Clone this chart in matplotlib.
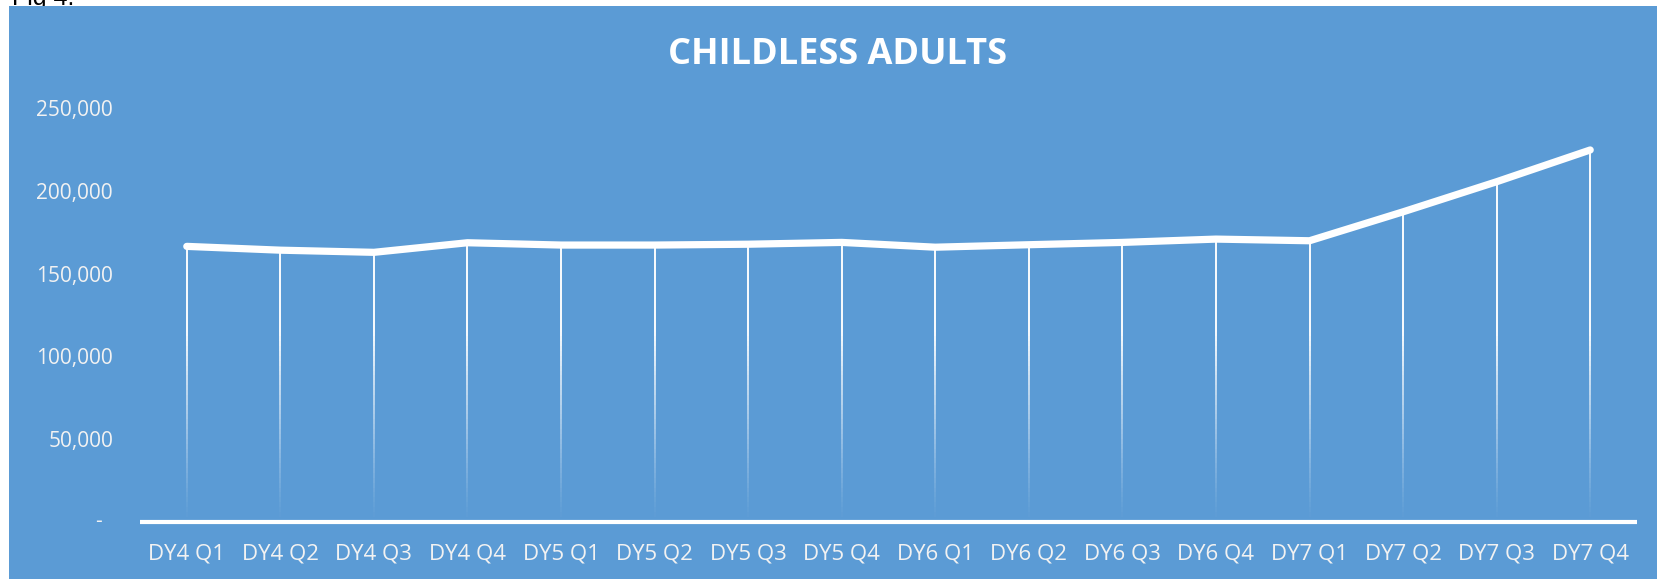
import numpy as np
import matplotlib
matplotlib.use("Agg")
import matplotlib.pyplot as plt
from matplotlib.collections import LineCollection
from matplotlib.patches import Rectangle
from matplotlib.ticker import FixedLocator, FuncFormatter

# ---- data ----
categories = ["DY4 Q1", "DY4 Q2", "DY4 Q3", "DY4 Q4",
              "DY5 Q1", "DY5 Q2", "DY5 Q3", "DY5 Q4",
              "DY6 Q1", "DY6 Q2", "DY6 Q3", "DY6 Q4",
              "DY7 Q1", "DY7 Q2", "DY7 Q3", "DY7 Q4"]
enrollment = [166500, 164200, 162900, 168700,
              167300, 167300, 167800, 168900,
              166000, 167500, 168900, 170900,
              169900, 187400, 205600, 224800]
y_ticks = [0, 50000, 100000, 150000, 200000, 250000]
title = "CHILDLESS ADULTS"

# ---- style ----
BLUE = "#5B9BD5"
LABEL = "#F2F2F2"
W, H = 1657, 579
plt.rcParams['font.family'] = ['Open Sans', 'DejaVu Sans']

fig = plt.figure(figsize=(W / 100, H / 100), dpi=100)
fig.patch.set_facecolor("white")

# "Fig 4." caption mostly cut off above the panel
fig.text(12 / W, 1 - 5 / H, "Fig 4.", fontsize=18, color="black",
         family=['Liberation Sans'], ha="left", va="baseline", zorder=0)
# blue chart panel
fig.patches.append(Rectangle((9 / W, 0), 1 - 9 / W, 1 - 6.3 / H,
                             transform=fig.transFigure, facecolor=BLUE,
                             edgecolor="none", zorder=1))

ax_left, ax_right = 140, 1637
ax_top, ax_bot = 108.3, 521.7
ax = fig.add_axes([ax_left / W, 1 - ax_bot / H,
                   (ax_right - ax_left) / W, (ax_bot - ax_top) / H])
ax.set_zorder(2)
ax.patch.set_alpha(0)

x = np.arange(len(categories))
ax.set_xlim(-0.5, len(categories) - 0.5)
ax.set_ylim(0, 250000)

# drop lines: solid upper part, fading lower part toward the axis
FADE_TOP = 115000
segs, cols = [], []
for xi, v in zip(x, enrollment):
    ys = np.linspace(0, FADE_TOP, 40)
    for a, b in zip(ys[:-1], ys[1:]):
        segs.append([(xi, a), (xi, b)])
        alpha = np.clip((a + b) / 2 / FADE_TOP, 0, 1) ** 1.2
        cols.append((1, 1, 1, alpha * 0.95))
    segs.append([(xi, FADE_TOP), (xi, v)])
    cols.append((1, 1, 1, 0.95))
lc = LineCollection(segs, colors=cols, linewidths=1.3, capstyle="butt",
                    antialiaseds=False, zorder=2)
ax.add_collection(lc)

# main line
ax.plot(x, enrollment, color="white", lw=5.2, solid_capstyle="round",
        solid_joinstyle="round", zorder=3)

# axes styling
for s in ["top", "right", "left"]:
    ax.spines[s].set_visible(False)
ax.spines["bottom"].set_color("white")
ax.spines["bottom"].set_linewidth(3)
ax.spines["bottom"].set_capstyle("butt")

ax.xaxis.set_major_locator(FixedLocator(x))
ax.set_xticklabels(categories)
ax.yaxis.set_major_locator(FixedLocator(y_ticks))
ax.yaxis.set_major_formatter(FuncFormatter(lambda v, p: "" if v == 0 else f"{int(v):,}"))
ax.tick_params(axis="x", length=0, pad=15.8, labelsize=16, labelcolor=LABEL)
ax.tick_params(axis="y", length=0, pad=19.4, labelsize=15, labelcolor=LABEL)
ax.text(-(ax_left - 102) / (ax_right - ax_left), 0, "-", transform=ax.get_yaxis_transform(),
        ha="right", va="center", fontsize=15, color=LABEL)

fig.text(837.5 / W, 1 - 64 / H, title, ha="center", va="baseline",
         fontsize=26, fontweight="bold", color="white")

fig.savefig("out.png", dpi=100, facecolor=fig.get_facecolor())
